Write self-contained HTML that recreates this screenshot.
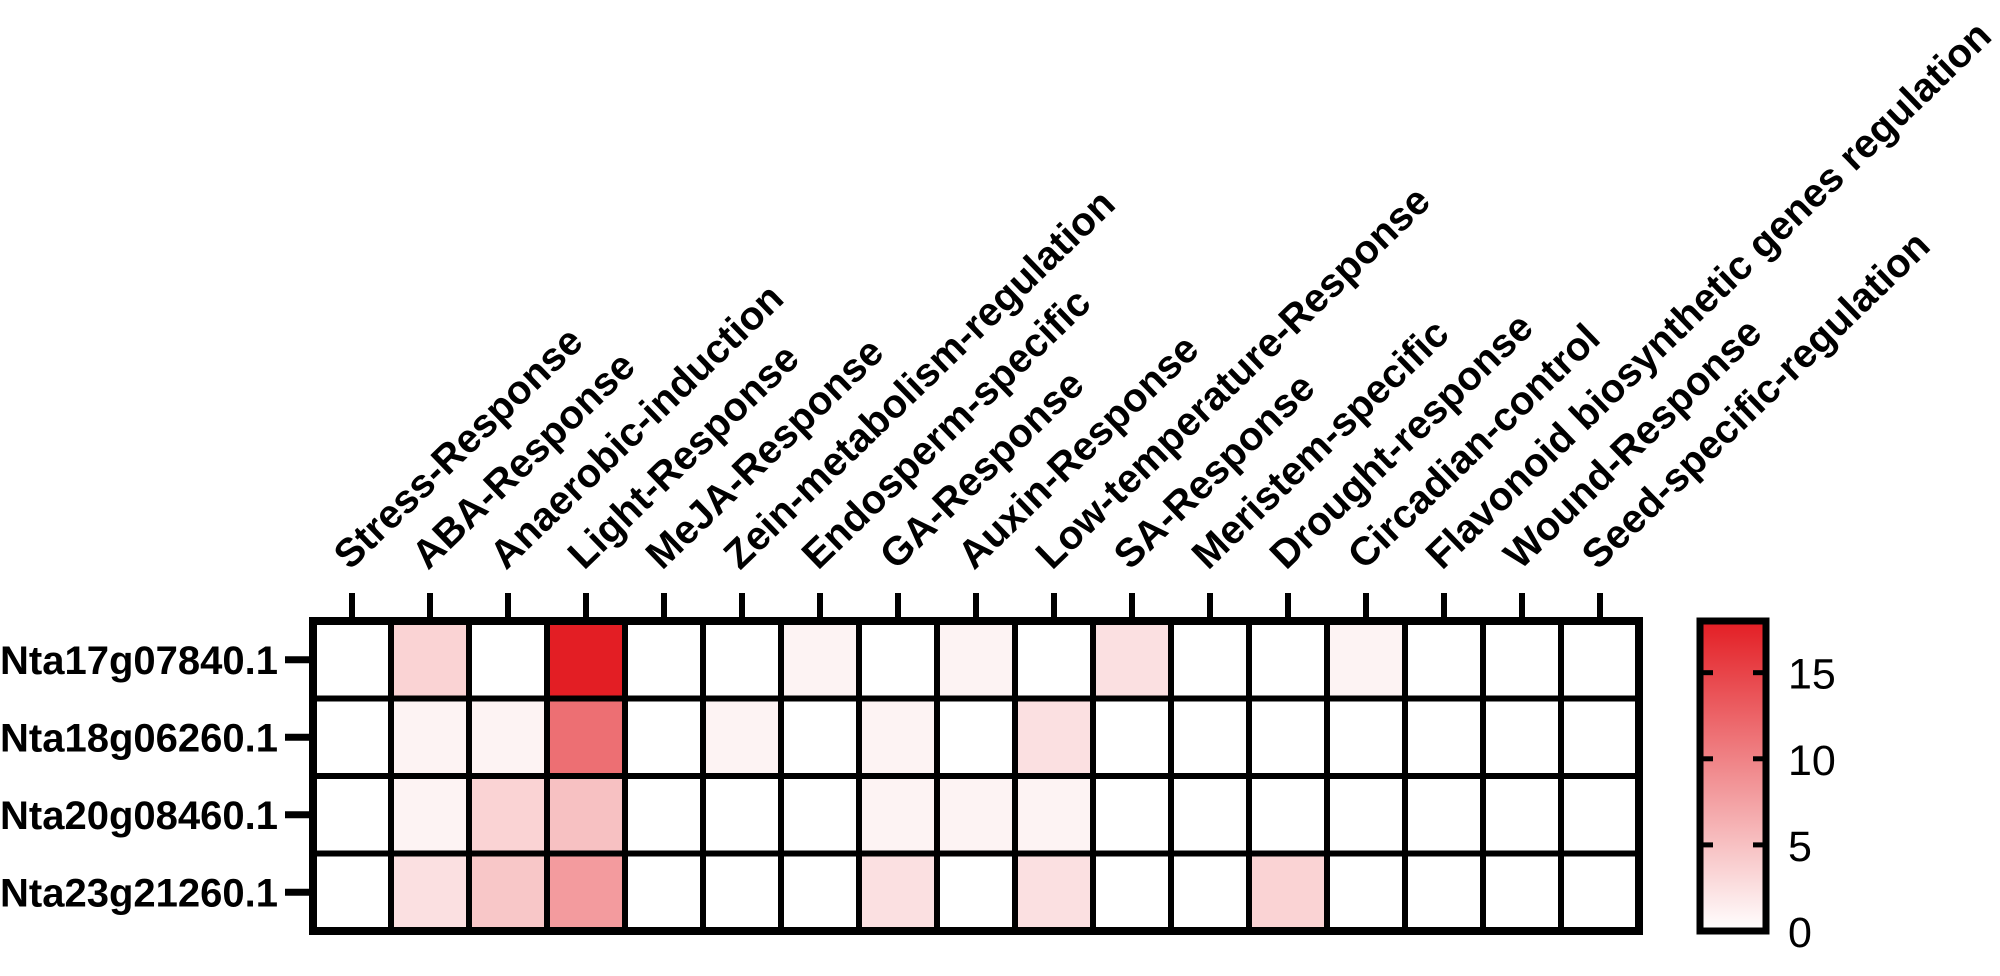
<!DOCTYPE html>
<html><head><meta charset="utf-8"><style>
html,body{margin:0;padding:0;background:#fff;}
svg{display:block;font-family:"Liberation Sans",Arial,sans-serif;}
</style></head><body>
<svg id="chart" width="2000" height="976" viewBox="0 0 2000 976" xmlns="http://www.w3.org/2000/svg">
<defs><linearGradient id="cbgrad" x1="0" y1="1" x2="0" y2="0"><stop offset="0" stop-color="#ffffff"/><stop offset="1" stop-color="#e31e24"/></linearGradient></defs>
<g id="cells"></g>
<g id="grid"></g>
<g id="xlabels"></g>
<g id="ylabels"></g>
<g id="cbar"></g>
</svg>
<script>
const columns = ["Stress-Response","ABA-Response","Anaerobic-induction","Light-Response","MeJA-Response","Zein-metabolism-regulation","Endosperm-specific","GA-Response","Auxin-Response","Low-temperature-Response","SA-Response","Meristem-specific","Drought-response","Circadian-control","Flavonoid biosynthetic genes regulation","Wound-Response","Seed-specific-regulation"];
const rows = ["Nta17g07840.1","Nta18g06260.1","Nta20g08460.1","Nta23g21260.1"];
const row1 = [0,3.5,0,18,0,0,1,0,1,0,2.5,0,0,1,0,0,0];
const row2 = [0,1,1,11.5,0,1,0,1,0,2.5,0,0,0,0,0,0,0];
const row3 = [0,1,3.5,5,0,0,0,1,1,1,0,0,0,0,0,0,0];
const row4 = [0,2.5,4.5,8,0,0,0,2.5,0,2.5,0,0,3.5,0,0,0,0];
const values = [row1,row2,row3,row4];
const cbTicks = [0,5,10,15];
const vMax = 18;

const NS="http://www.w3.org/2000/svg";
const L=313,R=1639,T=621,B=931;
const cw=(R-L)/columns.length, rh=(B-T)/rows.length;
const xOf=i=>L+i*cw, yOf=j=>T+j*rh;
function mk(tag,attrs,parent){const e=document.createElementNS(NS,tag);for(const k in attrs)e.setAttribute(k,attrs[k]);parent.appendChild(e);return e;}
function color(v){const t=Math.max(0,Math.min(1,v/vMax));const r=Math.round(255+(227-255)*t),g=Math.round(255+(30-255)*t),b=Math.round(255+(36-255)*t);return `rgb(${r},${g},${b})`;}
const cells=document.getElementById('cells'),grid=document.getElementById('grid'),xl=document.getElementById('xlabels'),yl=document.getElementById('ylabels'),cb=document.getElementById('cbar');
values.forEach((row,j)=>row.forEach((v,i)=>{
  const r=mk('rect',{x:xOf(i),y:yOf(j),width:cw,height:rh,fill:color(v)},cells);
  
  
}));
for(let i=1;i<columns.length;i++){const l=mk('line',{x1:xOf(i),x2:xOf(i),y1:T,y2:B,stroke:'#000','stroke-width':6},grid);}
for(let j=1;j<rows.length;j++){const l=mk('line',{x1:L,x2:R,y1:yOf(j),y2:yOf(j),stroke:'#000','stroke-width':6},grid);}
const fr=mk('rect',{x:L,y:T,width:R-L,height:B-T,fill:'none',stroke:'#000','stroke-width':8},grid);


columns.forEach((c,i)=>{
  const cx=xOf(i)+cw/2;
  const t=mk('line',{x1:cx,x2:cx,y1:T-28,y2:T,stroke:'#000','stroke-width':6},xl);
  
  
  const tx=mk('text',{x:cx-2,y:T-50,transform:`rotate(-44 ${cx-2} ${T-50})`,'font-size':40,'font-weight':'bold',fill:'#000'},xl);
  tx.textContent=c;
  
  
});
rows.forEach((r,j)=>{
  const cy=yOf(j)+rh/2;
  const t=mk('line',{x1:L-28,x2:L,y1:cy,y2:cy,stroke:'#000','stroke-width':7},yl);
  
  
  const tx=mk('text',{x:278,y:cy+14,'text-anchor':'end','font-size':40,'font-weight':'bold',fill:'#000'},yl);
  tx.textContent=r;
  
  
});
const CL=1700,CR=1766,CT=621,CB=931;
const cyOf=v=>CB-(v/vMax)*(CB-CT);
const g=mk('rect',{x:CL,y:CT,width:CR-CL,height:CB-CT,fill:'url(#cbgrad)',stroke:'#000','stroke-width':7},cb);


cbTicks.forEach(v=>{
  const y=cyOf(v);
  if(v>0){
    const a=mk('line',{x1:CL,x2:CL+13,y1:y,y2:y,stroke:'#000','stroke-width':5},cb);
    
    
    const b=mk('line',{x1:CR-13,x2:CR,y1:y,y2:y,stroke:'#000','stroke-width':5},cb);
    
    
  }
  const tx=mk('text',{x:1788,y:y+16,'font-size':43,fill:'#000'},cb);
  tx.textContent=v;
  
  
});
</script>
</body></html>
